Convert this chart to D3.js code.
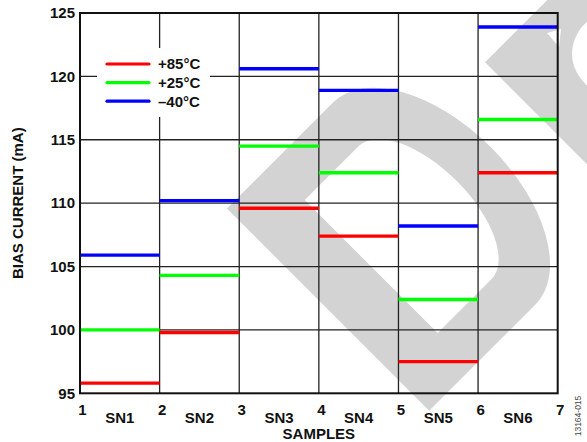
<!DOCTYPE html>
<html>
<head>
<meta charset="utf-8">
<script src="https://cdn.jsdelivr.net/npm/d3@7"></script>
<style>
  html, body { margin: 0; padding: 0; background: #fff; }
  svg { display: block; font-family: "Liberation Sans", Arial, Helvetica, sans-serif; }
</style>
</head>
<body>
<svg id="chart" width="587" height="442"></svg>
<script>
// Bias current per sample board, one flat segment per sample and temperature
const samples = ["SN1", "SN2", "SN3", "SN4", "SN5", "SN6"];
const xTicks = [1, 2, 3, 4, 5, 6, 7];
const yTicks = [95, 100, 105, 110, 115, 120, 125];
const seriesNames = ["+85°C", "+25°C", "\u201340°C"];
const seriesColors = ["#ff0000", "#00ff00", "#0000ff"];
const current85 = [95.8, 99.8, 109.6, 107.4, 97.5, 112.4];
const current25 = [100.0, 104.3, 114.5, 112.4, 102.4, 116.6];
const currentM40 = [105.9, 110.2, 120.6, 118.9, 108.2, 123.9];

const series = [current85, current25, currentM40].map((vals, i) => ({
  name: seriesNames[i], color: seriesColors[i], values: vals
}));

const svg = d3.select("#chart");
const W = 587, H = 442;
const m = { left: 80, right: 29.3, top: 13, bottom: 48.7 };

const x = d3.scaleLinear().domain([1, 7]).range([m.left, W - m.right]);
const y = d3.scaleLinear().domain([95, 125]).range([H - m.bottom, m.top]);

svg.append("rect").attr("width", W).attr("height", H).attr("fill", "#fff");

// Background "D" watermark, drawn in a frame rotated by -45 degrees
const wm = svg.append("g").attr("transform", "rotate(-45)").attr("fill", "#d3d3d3");
wm.append("path")
  .attr("fill-rule", "evenodd")
  .attr("d",
    "M13,308 L163,308 A80,143 0 0 1 163,594 L13,594 Z " +
    "M74,357 L150,357 A45,94 0 0 1 150,545 L74,545 Z");
wm.append("path")
  .attr("d", "M299,387 L760,387 L760,900 L299,900 Z");
// openings of the second watermark glyph, in screen space
svg.append("path").attr("fill", "#fff")
  .attr("d", "M547,33 L561,29 L559,47 Z");
svg.append("path").attr("fill", "#fff")
  .attr("d", "M590,20 C580,26 572,40 572,54 C572,68 580,80 590,88 Z");

// Grid
const grid = svg.append("g").attr("stroke", "#222").attr("stroke-width", 1.3);
grid.selectAll("line.v").data(xTicks.slice(1, -1)).join("line")
  .attr("x1", d => x(d)).attr("x2", d => x(d))
  .attr("y1", y(95)).attr("y2", y(125));
grid.selectAll("line.h").data(yTicks.slice(1, -1)).join("line")
  .attr("x1", x(1)).attr("x2", x(7))
  .attr("y1", d => y(d)).attr("y2", d => y(d));

// Data segments: each sample spans from tick i to tick i+1
const marks = svg.append("g");
series.forEach(s => {
  marks.selectAll(null).data(s.values).join("line")
    .attr("x1", (d, i) => x(xTicks[i]))
    .attr("x2", (d, i) => x(xTicks[i + 1]))
    .attr("y1", d => y(d)).attr("y2", d => y(d))
    .attr("stroke", s.color).attr("stroke-width", 3.4);
});

// Legend
const lg = svg.append("g");
lg.append("rect").attr("x", 97).attr("y", 48).attr("width", 113).attr("height", 69).attr("fill", "#fff");
series.forEach((s, i) => {
  const yy = 64 + i * 18.6;
  lg.append("line").attr("x1", 107).attr("x2", 149).attr("y1", yy).attr("y2", yy)
    .attr("stroke", s.color).attr("stroke-width", 3.2).attr("stroke-linecap", "round");
  lg.append("text").attr("x", 158).attr("y", yy).attr("dy", "0.36em")
    .attr("font-size", 15).attr("font-weight", "bold").attr("fill", "#111").text(s.name);
});

// Plot frame
svg.append("rect").attr("x", x(1)).attr("y", y(125))
  .attr("width", x(7) - x(1)).attr("height", y(95) - y(125))
  .attr("fill", "none").attr("stroke", "#111").attr("stroke-width", 2);

// Y axis labels
const yAxis = d3.axisLeft(y).tickValues(yTicks).tickSize(0).tickPadding(5);
svg.append("g").attr("transform", `translate(${x(1)},0)`).call(yAxis)
  .call(g => g.select(".domain").remove())
  .call(g => g.selectAll("text").attr("font-size", 15).attr("font-weight", "bold")
    .attr("fill", "#111").attr("font-family", null));

// X axis: boundary numbers and sample names between them
const xAxis = d3.axisBottom(x).tickValues(xTicks).tickFormat(d3.format("d")).tickSize(0).tickPadding(0);
svg.append("g").attr("transform", `translate(2,${H - m.bottom})`).call(xAxis)
  .call(g => g.select(".domain").remove())
  .call(g => g.selectAll("text").attr("y", 21.5).attr("dy", null).attr("font-size", 15)
    .attr("font-weight", "bold").attr("fill", "#111").attr("font-family", null));

svg.append("g").selectAll("text").data(samples).join("text")
  .attr("x", (d, i) => (x(xTicks[i]) + x(xTicks[i + 1])) / 2)
  .attr("y", 423).attr("text-anchor", "middle")
  .attr("font-size", 15).attr("font-weight", "bold").attr("fill", "#111").text(d => d);

svg.append("text").attr("x", (x(1) + x(7)) / 2).attr("y", 439).attr("text-anchor", "middle")
  .attr("font-size", 15).attr("font-weight", "bold").attr("fill", "#111").text("SAMPLES");

svg.append("text").attr("transform", `translate(23,${(y(95) + y(125)) / 2}) rotate(-90)`)
  .attr("text-anchor", "middle")
  .attr("font-size", 15).attr("font-weight", "bold").attr("fill", "#111").text("BIAS CURRENT (mA)");

svg.append("text").attr("transform", "translate(581,416) rotate(-90)")
  .attr("text-anchor", "middle").attr("font-size", 8.5).attr("fill", "#444").text("13164-015");
</script>
</body>
</html>
